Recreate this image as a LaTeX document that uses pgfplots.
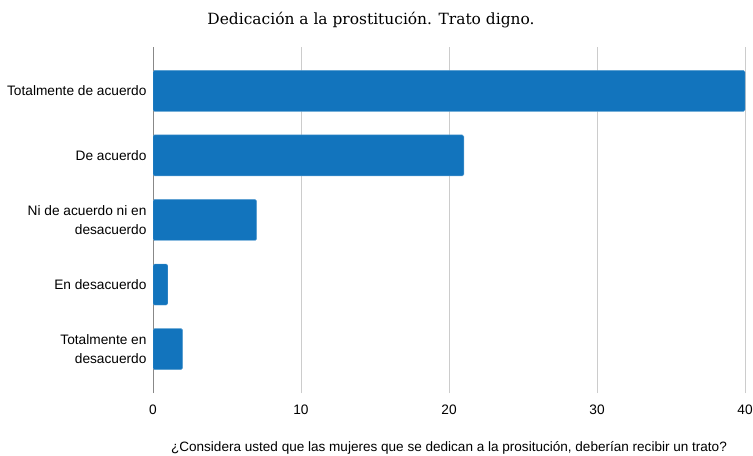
\documentclass[border=0pt]{standalone}
\usepackage{pgfplots}
\pgfplotsset{compat=1.18}
\usepackage{fontspec}
\setmainfont{Liberation Sans}
\newfontfamily\seriffont{DejaVu Serif}
\definecolor{barblue}{HTML}{1274BD}
\definecolor{gridgray}{HTML}{CCCCCC}
\definecolor{axisgray}{HTML}{888888}
\begin{document}
\begin{tikzpicture}
\path[use as bounding box] (0,0) rectangle (753bp,456bp);
\begin{axis}[
  at={(153bp,63bp)}, anchor=south west,
  scale only axis,
  width=592bp, height=346bp,
  xbar, bar width=41bp,
  xmin=0, xmax=40,
  ymin=-0.68, ymax=4.68,
  xtick={10,20,30,40},
  extra x ticks={0},
  extra x tick style={grid style={axisgray, line width=0.8pt}},
  xmajorgrids,
  grid style={gridgray, line width=0.6pt},
  ytick={0,1,2,3,4},
  yticklabels={{Totalmente en\\desacuerdo},{En desacuerdo},{Ni de acuerdo ni en\\desacuerdo},{De acuerdo},{Totalmente de acuerdo}},
  yticklabel style={align=right, font=\fontsize{13.75}{19}\selectfont, xshift=-3bp},
  xticklabel style={font=\fontsize{13.75}{16}\selectfont, yshift=-8bp},
  /pgf/number format/assume math mode=true,
  major tick length=0pt,
  axis line style={draw=none},
  xlabel={¿Considera usted que las mujeres que se dedican a la prositución, deberían recibir un trato?},
  xlabel style={at={(axis description cs:0.5,-0.160)}, anchor=center, font=\fontsize{13.6}{16}\selectfont},
]
\addplot[fill=barblue, draw=barblue!70!white, line width=0.4pt, rounded corners=1.5pt] coordinates {
  (2,0) (1,1) (7,2) (21,3) (40,4)
};
\end{axis}
\node[font=\seriffont\fontsize{15.5}{20}\selectfont] at (371bp,436bp) {Dedicación a la prostitución. Trato digno.};
\end{tikzpicture}
\end{document}
